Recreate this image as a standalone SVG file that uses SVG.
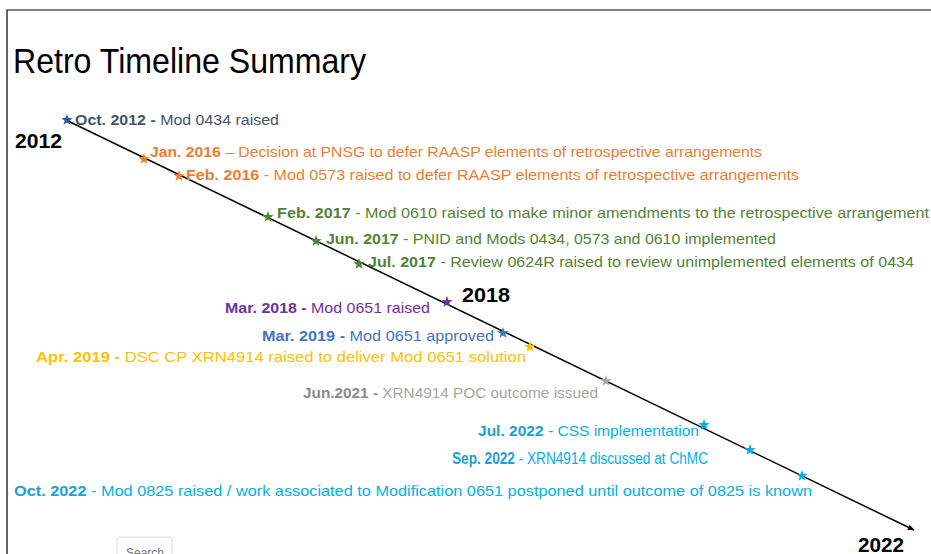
<svg xmlns="http://www.w3.org/2000/svg" width="931" height="554" viewBox="0 0 931 554">
<style>
.t{font-family:"Liberation Sans",Arial,sans-serif;font-size:15px}
.b{font-weight:bold}
.yr{font-family:"Liberation Sans",Arial,sans-serif;font-size:20px;font-weight:bold;fill:#000}
.frame{fill:none;stroke:#000;stroke-width:1.2}
</style>
<defs>
<path id="star" d="M0,-6 L1.41,-1.94 L5.71,-1.85 L2.28,0.74 L3.53,4.85 L0,2.4 L-3.53,4.85 L-2.28,0.74 L-5.71,-1.85 L-1.41,-1.94 Z"/>
<marker id="arr" viewBox="0 0 10 10" refX="9" refY="5" markerWidth="7" markerHeight="7" orient="auto" markerUnits="userSpaceOnUse">
<path d="M0,1 L10,5 L0,9 Z" fill="#000"/>
</marker>
</defs>
<rect width="931" height="554" fill="#fff"/>
<path class="frame" d="M7,560 V10 H935"/>
<text x="13" y="73" font-family="'Liberation Sans',Arial,sans-serif" font-size="35" fill="#000" textLength="353" lengthAdjust="spacingAndGlyphs">Retro Timeline Summary</text>
<text class="yr" x="15" y="148" textLength="47" lengthAdjust="spacingAndGlyphs">2012</text>
<text class="yr" x="462" y="302" textLength="48" lengthAdjust="spacingAndGlyphs">2018</text>
<text class="yr" x="858" y="552" textLength="46" lengthAdjust="spacingAndGlyphs">2022</text>
<g id="connectors">
<line x1="66" y1="120" x2="914" y2="530" stroke="#000" stroke-width="1.5" marker-end="url(#arr)"/>
</g>
<g id="oct2012"><use href="#star" x="67" y="120" fill="#2F5597"/>
<text class="t" x="75" y="125" fill="#44546A" textLength="204" lengthAdjust="spacingAndGlyphs"><tspan class="b">Oct. 2012 -</tspan> Mod 0434 raised</text></g>
<g id="jan2016"><use href="#star" x="144" y="159" fill="#ED7D31"/>
<text class="t" x="150" y="157" fill="#ED7D31" textLength="612" lengthAdjust="spacingAndGlyphs"><tspan class="b">Jan. 2016</tspan> – Decision at PNSG to defer RAASP elements of retrospective arrangements</text></g>
<g id="feb2016"><use href="#star" x="179" y="176" fill="#ED7D31"/>
<text class="t" x="186" y="180" fill="#ED7D31" textLength="613" lengthAdjust="spacingAndGlyphs"><tspan class="b">Feb. 2016</tspan> - Mod 0573 raised to defer RAASP elements of retrospective arrangements</text></g>
<g id="feb2017"><use href="#star" x="268" y="217" fill="#548235"/>
<text class="t" x="277" y="218" fill="#548235" textLength="652" lengthAdjust="spacingAndGlyphs"><tspan class="b">Feb. 2017</tspan> - Mod 0610 raised to make minor amendments to the retrospective arrangement</text></g>
<g id="jun2017"><use href="#star" x="316" y="241" fill="#548235"/>
<text class="t" x="326" y="244" fill="#548235" textLength="450" lengthAdjust="spacingAndGlyphs"><tspan class="b">Jun. 2017</tspan> - PNID and Mods 0434, 0573 and 0610 implemented</text></g>
<g id="jul2017"><use href="#star" x="359" y="264" fill="#548235"/>
<text class="t" x="368" y="267" fill="#548235" textLength="546" lengthAdjust="spacingAndGlyphs"><tspan class="b">Jul. 2017</tspan> - Review 0624R raised to review unimplemented elements of 0434</text></g>
<g id="mar2018"><use href="#star" x="447" y="302" fill="#7030A0"/>
<text class="t" x="225" y="313" fill="#7030A0" textLength="205" lengthAdjust="spacingAndGlyphs"><tspan class="b">Mar. 2018 -</tspan> Mod 0651 raised</text></g>
<g id="mar2019"><use href="#star" x="503" y="333" fill="#4472C4"/>
<text class="t" x="262" y="341" fill="#4472C4" textLength="232" lengthAdjust="spacingAndGlyphs"><tspan class="b">Mar. 2019 -</tspan> Mod 0651 approved</text></g>
<g id="apr2019"><use href="#star" x="530" y="347" fill="#FFC000"/>
<text class="t" x="36" y="362" fill="#FFC000" textLength="490" lengthAdjust="spacingAndGlyphs"><tspan class="b">Apr. 2019 -</tspan> DSC CP XRN4914 raised to deliver Mod 0651 solution</text></g>
<g id="jun2021"><use href="#star" x="606" y="381" fill="#A5A5A5"/>
<text class="t" x="303" y="398" fill="#A5A5A5" textLength="295" lengthAdjust="spacingAndGlyphs"><tspan class="b" fill="#8C8C8C">Jun.2021 -</tspan> XRN4914 POC outcome issued</text></g>
<g id="jul2022"><use href="#star" x="704" y="425" fill="#00B0F0"/>
<text class="t" x="478" y="436" fill="#00B0F0" textLength="221" lengthAdjust="spacingAndGlyphs"><tspan class="b" fill="#1AA0DA">Jul. 2022</tspan> - CSS implementation</text></g>
<g id="sep2022"><use href="#star" x="750" y="450" fill="#00B0F0"/>
<text x="452" y="464" font-family="'Liberation Sans',Arial,sans-serif" font-size="16" fill="#00B0F0" textLength="256" lengthAdjust="spacingAndGlyphs"><tspan font-weight="bold" fill="#1AA0DA">Sep. 2022</tspan> - XRN4914 discussed at ChMC</text></g>
<g id="oct2022"><use href="#star" x="802" y="476" fill="#00B0F0"/>
<text class="t" x="14" y="496" fill="#00B0F0" textLength="798" lengthAdjust="spacingAndGlyphs"><tspan class="b" fill="#1AA0DA">Oct. 2022</tspan> - Mod 0825 raised / work associated to Modification 0651 postponed until outcome of 0825 is known</text></g>
<g id="search">
<rect x="117" y="537" width="55" height="24" rx="3" fill="#fff" stroke="#DDDDDD"/>
<text x="126" y="557" font-family="'Liberation Sans',Arial,sans-serif" font-size="12" fill="#777">Search</text>
</g>
</svg>
